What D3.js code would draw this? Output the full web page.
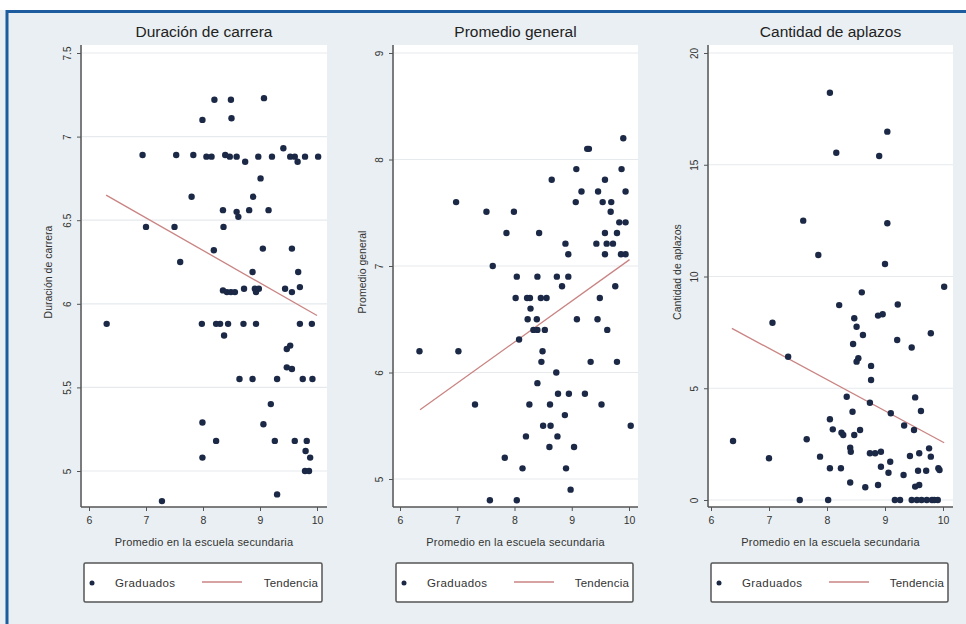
<!DOCTYPE html>
<html><head><meta charset="utf-8">
<script src="https://cdn.jsdelivr.net/npm/d3@7"></script>
<style>body{margin:0;background:#fff}svg{display:block}text{font-family:"Liberation Sans",Arial,sans-serif}</style>
</head><body><svg id="c" width="966" height="624"></svg>
<script>
// ---------------- DATA ----------------
const titles = ["Duración de carrera", "Promedio general", "Cantidad de aplazos"];
const yTitles = ["Duración de carrera", "Promedio general", "Cantidad de aplazos"];
const xTitle = "Promedio en la escuela secundaria";
const xTicks = [6, 7, 8, 9, 10];
const yTicks1 = [5, 5.5, 6, 6.5, 7, 7.5];
const yTicks2 = [5, 6, 7, 8, 9];
const yTicks3 = [0, 5, 10, 15, 20];
const legendLabels = ["Graduados", "Tendencia"];

// Panel 1: Duración de carrera
const hs1 = [8.20,8.49,9.07,7.99,8.50,6.94,7.53,7.83,8.06,8.15,8.39,8.47,8.59,8.97,9.21,9.53,9.61,9.79,10.02,9.41,8.74,9.66,9.01,7.80,8.88,8.35,8.59,8.62,8.81,9.15,7.00,7.50,8.36,8.19,9.05,9.56,7.60,8.87,9.67,8.35,8.42,8.49,8.56,8.72,8.91,8.93,8.98,9.44,9.56,9.70,6.31,7.98,8.23,8.30,8.44,8.71,8.93,9.70,9.91,8.37,9.47,9.53,9.47,9.56,8.64,8.87,9.30,9.75,9.92,9.19,7.99,9.06,8.23,9.26,9.61,9.82,9.80,9.88,7.99,9.79,9.86,9.30,7.28];
const duracion = [7.22,7.22,7.23,7.10,7.11,6.89,6.89,6.89,6.88,6.88,6.89,6.88,6.88,6.88,6.88,6.88,6.88,6.88,6.88,6.93,6.85,6.85,6.75,6.64,6.64,6.56,6.55,6.52,6.56,6.56,6.46,6.46,6.46,6.32,6.33,6.33,6.25,6.19,6.19,6.08,6.07,6.07,6.07,6.09,6.09,6.07,6.09,6.09,6.07,6.10,5.88,5.88,5.88,5.88,5.88,5.88,5.88,5.88,5.88,5.81,5.73,5.75,5.62,5.61,5.55,5.55,5.55,5.55,5.55,5.40,5.29,5.28,5.18,5.18,5.18,5.18,5.12,5.08,5.08,5.00,5.00,4.86,4.82];
const trendX1 = [6.30, 10.00];
const trendY1 = [6.65, 5.93];

// Panel 2: Promedio general
const hs2 = [9.90,9.30,9.27,9.08,9.87,8.65,9.58,9.17,9.46,9.94,6.98,9.07,9.54,9.69,7.51,7.99,9.68,9.83,9.94,7.86,8.43,9.58,9.79,8.89,9.43,9.61,9.72,8.94,9.58,9.86,9.94,7.62,8.04,8.40,8.74,8.94,8.83,9.76,8.02,8.22,8.27,8.46,8.56,9.49,8.28,8.23,8.39,9.09,9.45,8.33,8.40,8.53,9.62,8.08,6.34,7.02,8.49,8.47,9.33,9.79,8.73,8.40,8.76,8.95,9.23,7.31,8.26,8.62,9.52,8.88,8.50,8.63,10.03,8.20,8.75,8.61,9.04,7.83,8.14,8.90,8.98,7.57,8.04];
const promedio = [8.20,8.10,8.10,7.91,7.91,7.81,7.81,7.70,7.70,7.70,7.60,7.60,7.60,7.60,7.51,7.51,7.51,7.41,7.41,7.31,7.31,7.31,7.31,7.21,7.21,7.21,7.21,7.11,7.11,7.11,7.11,7.00,6.90,6.90,6.90,6.90,6.81,6.81,6.70,6.70,6.70,6.70,6.70,6.70,6.60,6.50,6.50,6.50,6.50,6.40,6.40,6.40,6.40,6.31,6.20,6.20,6.20,6.10,6.10,6.10,6.00,5.90,5.80,5.80,5.80,5.70,5.70,5.70,5.70,5.60,5.50,5.50,5.50,5.40,5.40,5.30,5.30,5.20,5.10,5.10,4.90,4.80,4.80];
const trendX2 = [6.35, 10.01];
const trendY2 = [5.65, 7.06];

// Panel 3: Cantidad de aplazos
const hs3 = [8.05,9.04,8.16,8.90,7.59,9.04,7.85,9.00,10.02,8.60,8.21,9.22,8.88,8.96,7.06,8.47,8.51,8.62,9.79,9.21,8.45,9.46,7.33,8.54,8.51,8.76,8.76,8.34,9.52,8.74,8.44,9.62,9.10,8.05,9.33,8.10,8.57,9.50,8.25,8.28,8.47,6.38,7.65,8.40,8.41,8.74,8.83,8.93,9.43,9.59,9.76,9.79,7.00,7.88,8.05,8.24,8.93,9.09,9.06,9.57,9.71,9.92,9.94,9.32,8.40,8.66,8.88,9.52,9.59,7.53,8.02,9.17,9.26,9.46,9.55,9.63,9.72,9.81,9.85,9.91];
const aplazos = [18.22,16.48,15.54,15.39,12.50,12.38,10.96,10.56,9.54,9.29,8.72,8.75,8.25,8.31,7.93,8.13,7.75,7.38,7.46,7.16,6.98,6.82,6.41,6.34,6.19,6.00,5.37,4.62,4.59,4.35,3.95,3.98,3.88,3.61,3.33,3.16,3.13,3.13,3.01,2.91,2.91,2.64,2.72,2.34,2.16,2.09,2.09,2.16,1.97,2.09,2.31,1.94,1.87,1.94,1.42,1.42,1.49,1.71,1.22,1.31,1.31,1.42,1.34,1.12,0.78,0.57,0.67,0.60,0.67,0,0,0,0,0,0,0,0,0,0,0];
const trendX3 = [6.36, 10.02];
const trendY3 = [7.68, 2.56];

// ---------------- LAYOUT ----------------
const layout = [
  {axisX: 81, right: 327, x6: 89, x10: 317, yDom: [5, 7.5], yRng: [471, 53], ytx: 52},
  {axisX: 393, right: 638, x6: 400, x10: 629, yDom: [5, 9], yRng: [479, 53], ytx: 366},
  {axisX: 708, right: 953, x6: 711, x10: 943, yDom: [0, 20], yRng: [500, 53], ytx: 681}
];
const plotTop = 45, plotBottom = 507;
const dotColor = "#1b2846", lineColor = "#c98483", textColor = "#333";

const panelData = [
  {x: hs1, y: duracion, yt: yTicks1, tx: trendX1, ty: trendY1},
  {x: hs2, y: promedio, yt: yTicks2, tx: trendX2, ty: trendY2},
  {x: hs3, y: aplazos, yt: yTicks3, tx: trendX3, ty: trendY3}
];

const svg = d3.select("#c");
svg.append("rect").attr("width", 966).attr("height", 624).attr("fill", "#e9eff2");
svg.append("rect").attr("width", 966).attr("height", 10).attr("fill", "#ffffff");
svg.append("path").attr("d", "M7,624V11.5H966").attr("fill", "none").attr("stroke", "#1d5c9e").attr("stroke-width", 3);

panelData.forEach((pd, i) => {
  const L = layout[i];
  const x = d3.scaleLinear().domain([6, 10]).range([L.x6, L.x10]);
  const y = d3.scaleLinear().domain(L.yDom).range(L.yRng);
  const g = svg.append("g");

  // plot area
  g.append("rect").attr("x", L.axisX + 1).attr("y", plotTop).attr("width", L.right - L.axisX - 1)
    .attr("height", plotBottom - plotTop).attr("fill", "#ffffff");

  // gridlines
  g.selectAll(".grid").data(pd.yt).join("line")
    .attr("x1", L.axisX + 1).attr("x2", L.right)
    .attr("y1", d => y(d)).attr("y2", d => y(d))
    .attr("stroke", "#e6eaed").attr("stroke-width", 1.2);

  // title
  g.append("text").attr("x", (L.axisX + L.right) / 2).attr("y", 37).attr("text-anchor", "middle")
    .attr("font-size", 15.5).attr("fill", "#222").text(titles[i]);

  // y axis
  const ya = g.append("g").attr("transform", `translate(${L.axisX},0)`)
    .call(d3.axisLeft(y).tickValues(pd.yt).tickSize(4).tickPadding(8).tickFormat(d => String(d)));
  ya.select(".domain").remove();
  ya.selectAll(".tick line").attr("stroke", "#555");
  ya.selectAll(".tick text").attr("font-size", 10).attr("fill", textColor)
    .attr("transform", "rotate(-90)").attr("x", 0).attr("y", -10).attr("dy", 0)
    .attr("text-anchor", "middle")
    .attr("font-family", '"Liberation Sans",Arial,sans-serif');
  g.append("line").attr("x1", L.axisX).attr("x2", L.axisX).attr("y1", plotTop).attr("y2", plotBottom)
    .attr("stroke", "#555").attr("stroke-width", 1.5);

  // x axis
  const xa = g.append("g").attr("transform", `translate(0,${plotBottom})`)
    .call(d3.axisBottom(x).tickValues(xTicks).tickSize(4).tickPadding(6).tickFormat(d => String(d)));
  xa.select(".domain").remove();
  xa.selectAll(".tick line").attr("stroke", "#555");
  xa.selectAll(".tick text").attr("font-size", 10.5).attr("fill", textColor)
    .attr("font-family", '"Liberation Sans",Arial,sans-serif');
  g.append("line").attr("x1", L.axisX).attr("x2", L.right).attr("y1", plotBottom).attr("y2", plotBottom)
    .attr("stroke", "#555").attr("stroke-width", 1.5);

  // axis titles
  g.append("text").attr("x", (L.axisX + L.right) / 2).attr("y", 546).attr("text-anchor", "middle")
    .attr("font-size", 11).attr("fill", textColor).attr("letter-spacing", 0.2).text(xTitle);
  g.append("text").attr("transform", `translate(${L.ytx},${(plotTop + plotBottom) / 2 - 4}) rotate(-90)`)
    .attr("text-anchor", "middle").attr("font-size", 10.5).attr("fill", textColor).text(yTitles[i]);

  // trend line
  const tl = pd.tx.map((v, k) => [v, pd.ty[k]]);
  g.append("path").datum(tl).attr("d", d3.line().x(d => x(d[0])).y(d => y(d[1])))
    .attr("fill", "none").attr("stroke", lineColor).attr("stroke-width", 1.3);

  // points
  const pts = pd.x.map((v, k) => [v, pd.y[k]]);
  g.selectAll(".pt").data(pts).join("circle")
    .attr("cx", d => x(d[0])).attr("cy", d => y(d[1])).attr("r", 3.2).attr("fill", dotColor);

  // legend
  const lg = g.append("g");
  const lx0 = L.axisX + 3, lx1 = L.right - 5;
  lg.append("rect").attr("x", lx0).attr("y", 563).attr("width", lx1 - lx0).attr("height", 39)
    .attr("fill", "#fff").attr("stroke", "#555").attr("stroke-width", 1.5).attr("rx", 1.5);
  lg.append("circle").attr("cx", lx0 + 8).attr("cy", 583).attr("r", 2.5).attr("fill", dotColor);
  lg.append("text").attr("x", lx0 + 31).attr("y", 587).attr("font-size", 11.5).attr("fill", textColor)
    .attr("letter-spacing", 0.4).text(legendLabels[0]);
  lg.append("line").attr("x1", lx0 + 118).attr("x2", lx0 + 158).attr("y1", 582).attr("y2", 582)
    .attr("stroke", lineColor).attr("stroke-width", 1.3);
  lg.append("text").attr("x", lx1 - 4).attr("y", 587).attr("text-anchor", "end").attr("font-size", 11.5)
    .attr("fill", textColor).attr("letter-spacing", 0.2).text(legendLabels[1]);
});
</script></body></html>
